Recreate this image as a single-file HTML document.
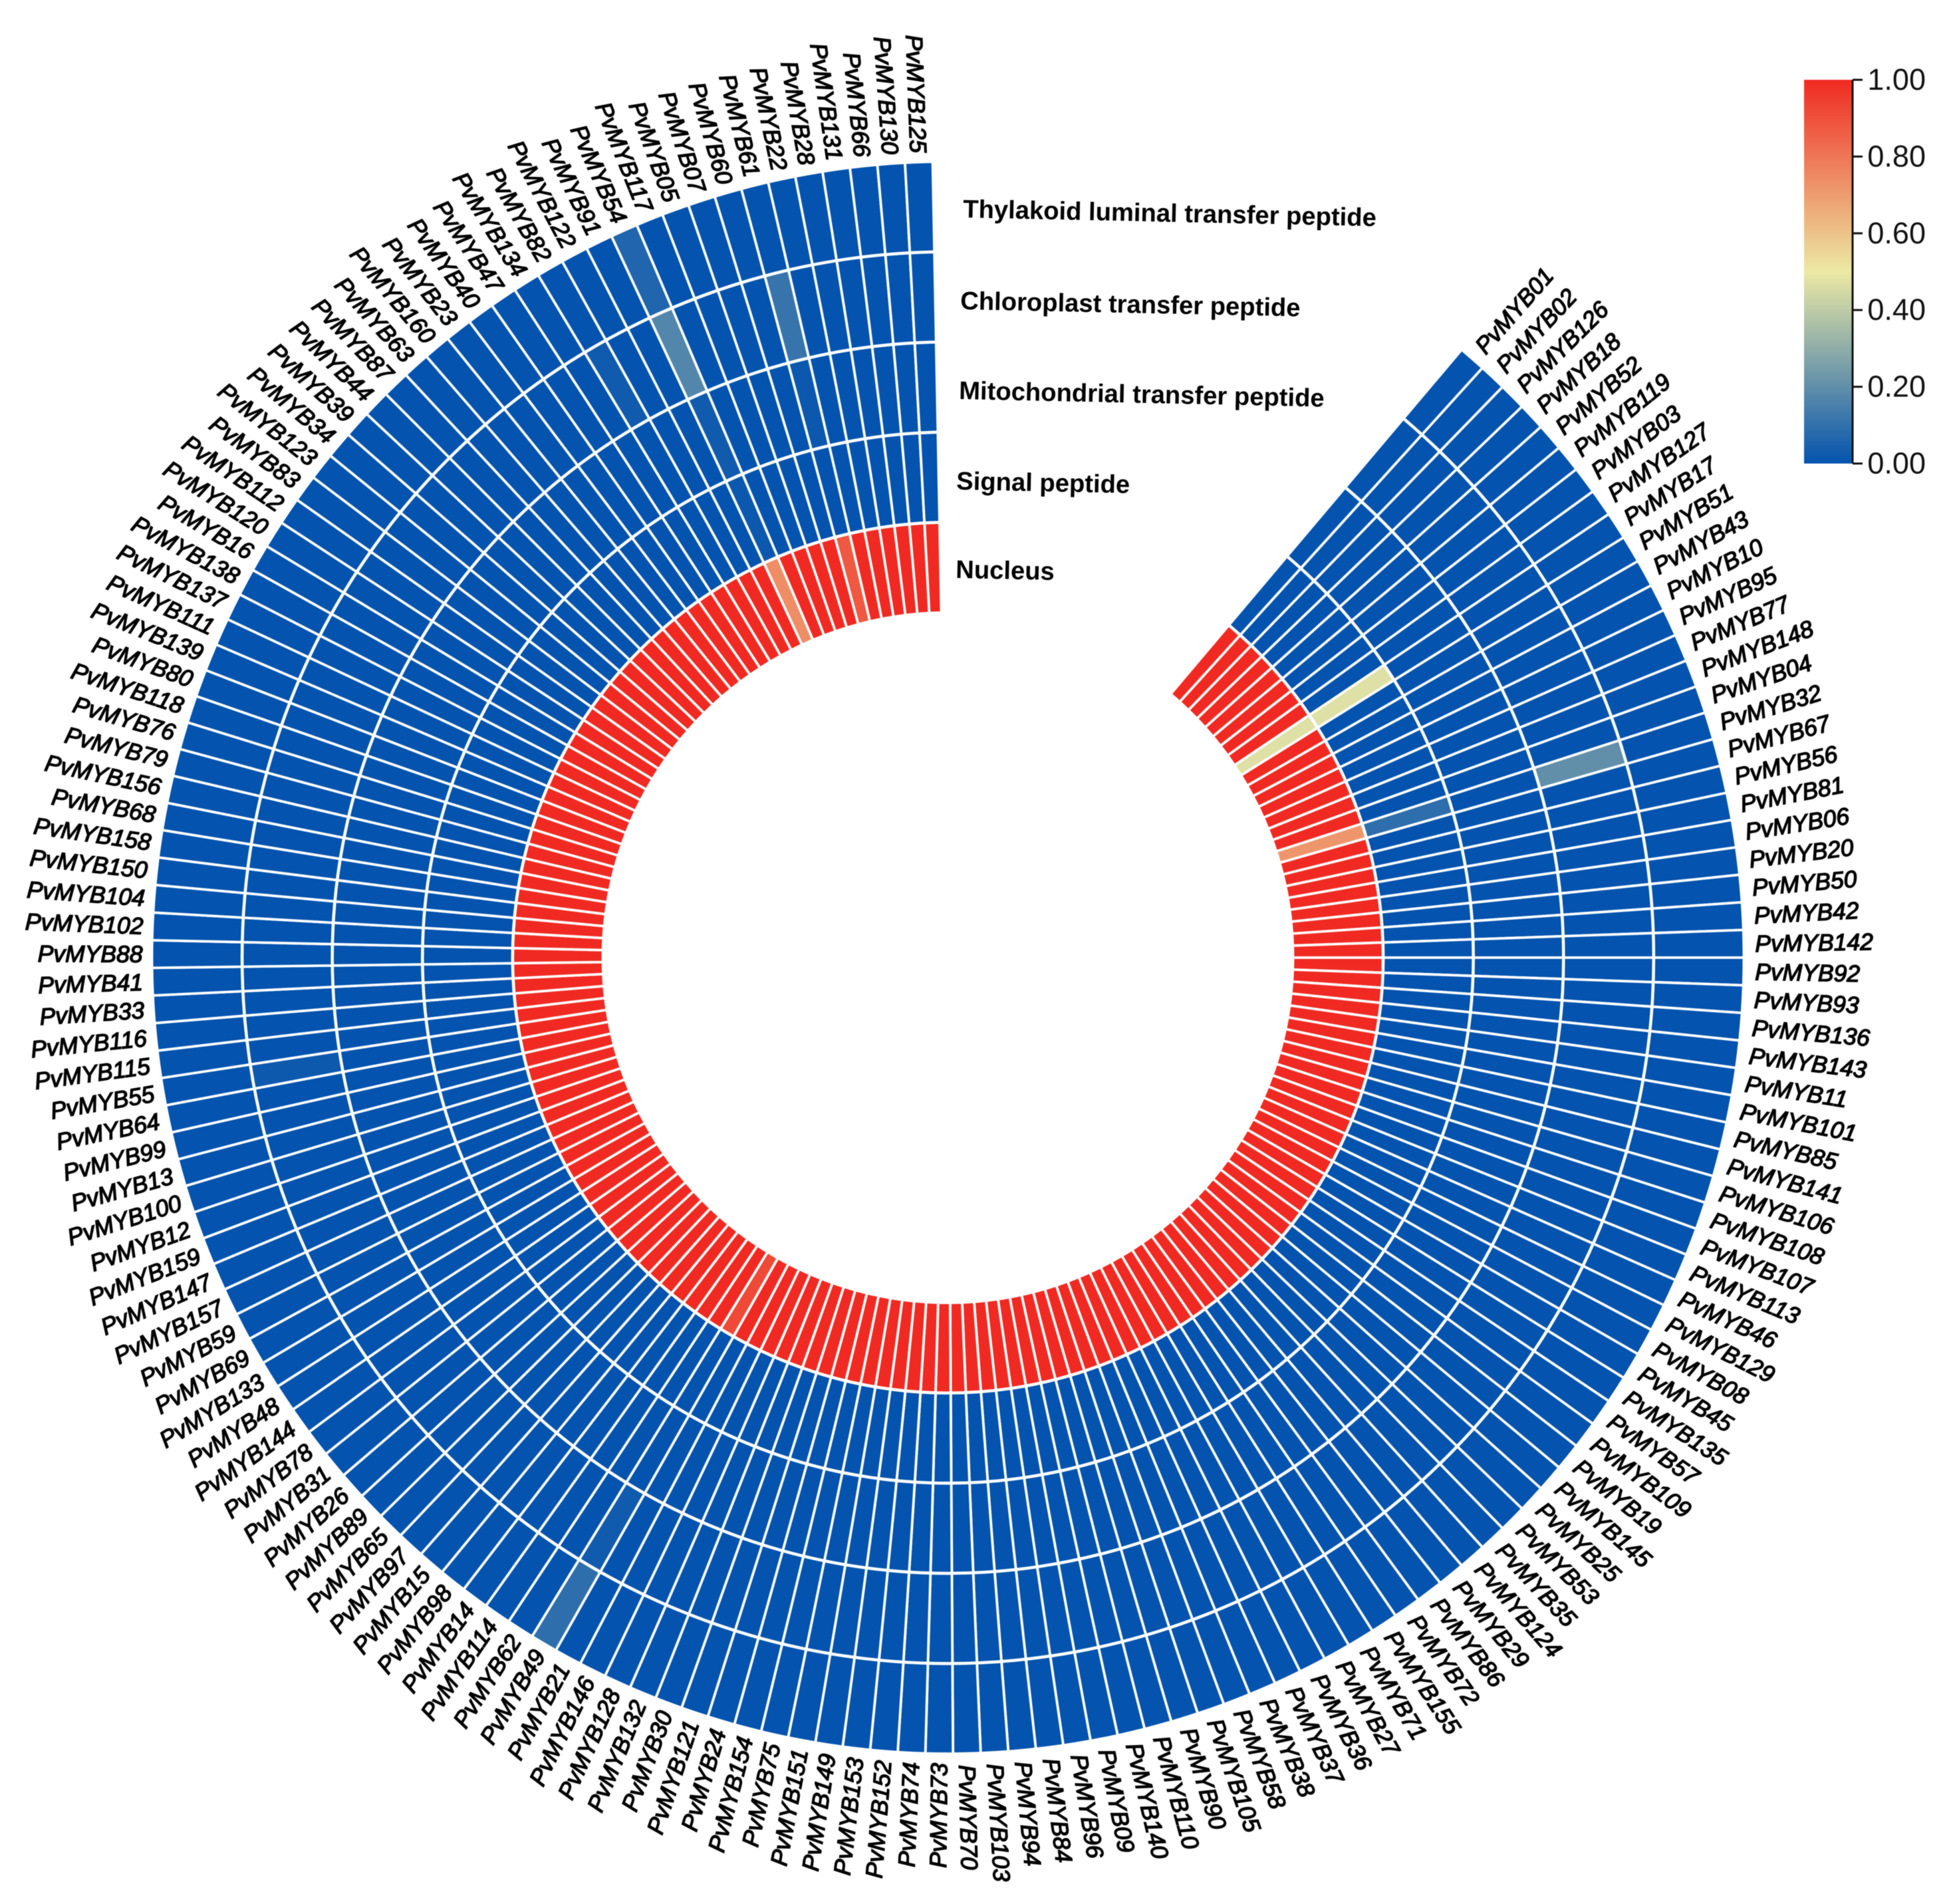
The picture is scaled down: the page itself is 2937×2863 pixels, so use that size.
<!DOCTYPE html>
<html lang="en">
<head>
<meta charset="utf-8">
<title>PvMYB subcellular localisation circular heatmap</title>
<style>
html,body{margin:0;padding:0;background:#fff;}
#chart{display:block;width:2937px;height:2863px;font-family:"Liberation Sans",Arial,sans-serif;filter:blur(0.6px);}
</style>
</head>
<body>
<svg id="chart" xmlns="http://www.w3.org/2000/svg" width="2937" height="2863" viewBox="0 0 2937 2863">
  <defs>
    <linearGradient id="legendGradient" x1="0" y1="1" x2="0" y2="0">
      <stop offset="0" stop-color="#0453ae"/>
      <stop offset="0.5" stop-color="#ece9a4"/>
      <stop offset="1" stop-color="#f02a22"/>
    </linearGradient>
  </defs>
  <g id="cells"></g>
  <g id="ringLines"></g>
  <g id="geneLabels"></g>
  <g id="ringLabels"></g>
  <g id="legend"></g>
</svg>
<script>
const genes = [
"01","02","126","18","52","119","03","127","17","51",
"43","10","95","77","148","04","32","67","56","81",
"06","20","50","42","142","92","93","136","143","11",
"101","85","141","106","108","107","113","46","129","08",
"45","135","57","109","19","145","25","53","35","124",
"29","86","72","155","71","27","36","37","38","58",
"105","90","110","140","09","96","84","94","103","70",
"73","74","152","153","149","151","75","154","24","121",
"30","132","128","146","21","49","62","114","14","98",
"15","97","65","89","26","31","78","144","48","133",
"69","59","157","147","159","12","100","13","99","64",
"55","115","116","33","41","88","102","104","150","158",
"68","156","79","76","118","80","139","111","137","138",
"16","120","112","83","123","34","39","44","87","63",
"160","23","40","47","134","82","122","91","54","117",
"05","07","60","61","22","28","131","66","130","125"
];
const ringNames = ["Nucleus","Signal peptide","Mitochondrial transfer peptide","Chloroplast transfer peptide","Thylakoid luminal transfer peptide"];
const nucleus = [
1,1,1,1,1,1,1,1,.47,1,
1,1,1,1,1,1,.72,1,1,1,
1,1,1,1,1,1,1,1,1,1,
1,1,1,1,1,1,1,1,1,1,
1,1,1,1,1,1,1,1,1,1,
1,1,1,1,1,1,1,1,1,1,
1,1,1,1,1,1,1,1,1,1,
1,1,1,1,1,1,1,1,1,1,
1,1,1,1,1,.92,1,1,1,1,
1,1,1,1,1,1,1,1,1,1,
1,1,1,1,1,1,1,1,1,1,
1,1,1,1,1,1,1,1,1,1,
1,1,1,1,1,1,1,1,1,1,
1,1,1,1,1,1,1,1,1,1,
1,1,1,1,1,1,1,1,.74,1,
1,1,1,.88,1,1,1,1,1,1
];
const signalPeptide = [
0,0,0,0,0,0,0,0,.47,0,
0,0,0,0,0,0,.09,0,0,0,
0,0,0,0,0,0,0,0,0,0,
0,0,0,0,0,0,0,0,0,0,
0,0,0,0,0,0,0,0,0,0,
0,0,0,0,0,0,0,0,0,0,
0,0,0,0,0,0,0,0,0,0,
0,0,0,0,0,0,0,0,0,0,
0,0,0,0,0,0,0,0,0,0,
0,0,0,0,0,0,0,0,0,0,
0,0,0,0,0,0,0,0,0,0,
0,0,0,0,0,0,0,0,0,0,
0,0,0,0,0,0,0,0,0,0,
0,0,0,0,0,0,0,0,0,0,
0,0,0,0,0,0,0,0,.015,0,
0,0,0,0,0,0,0,0,0,0
];
const mitochondrial = [
0,0,0,0,0,0,0,0,0,0,
0,0,0,0,0,0,0,0,0,0,
0,0,0,0,0,0,0,0,0,0,
0,0,0,0,0,0,0,0,0,0,
0,0,0,0,0,0,0,0,0,0,
0,0,0,0,0,0,0,0,0,0,
0,0,0,0,0,0,0,0,0,0,
0,0,0,0,0,0,0,0,0,0,
0,0,0,0,0,0,0,0,0,0,
0,0,0,0,0,0,0,0,0,0,
0,0,0,0,0,0,0,0,0,0,
0,0,0,0,0,0,0,0,0,0,
0,0,0,0,0,0,0,0,0,0,
0,0,0,0,0,0,0,0,0,0,
0,0,0,0,0,0,0,0,.025,0,
0,0,0,.015,0,0,0,0,0,0
];
const chloroplast = [
0,0,0,0,0,0,0,0,0,0,
0,0,0,0,0,0,.2,0,0,0,
0,0,0,0,0,0,0,0,0,0,
0,0,0,0,0,0,0,0,0,0,
0,0,0,0,0,0,0,0,0,0,
0,0,0,0,0,0,0,0,0,0,
0,0,0,0,0,0,0,0,0,0,
0,0,0,0,0,0,0,0,0,0,
0,0,0,0,0,.025,0,0,0,0,
0,0,0,0,0,0,0,0,0,0,
0,0,0,0,0,0,0,0,0,0,
.02,0,0,0,0,0,0,0,0,0,
0,0,0,0,0,0,0,0,0,0,
0,0,0,0,0,0,0,0,0,0,
0,0,0,0,0,.025,0,0,.17,0,
0,0,0,.11,0,0,0,0,0,0
];
const thylakoid = [
0,0,0,0,0,0,0,0,0,0,
0,0,0,0,0,0,0,0,0,0,
0,0,0,0,0,0,0,0,0,0,
0,0,0,0,0,0,0,0,0,0,
0,0,0,0,0,0,0,0,0,0,
0,0,0,0,0,0,0,0,0,0,
0,0,0,0,0,0,0,0,0,0,
0,0,0,0,0,0,0,0,0,0,
0,0,0,0,0,.09,0,0,0,0,
0,0,0,0,0,0,0,0,0,0,
0,0,0,0,0,0,0,0,0,0,
0,0,0,0,0,0,0,0,0,0,
0,0,0,0,0,0,0,0,0,0,
0,0,0,0,0,0,0,0,0,0,
0,0,0,0,0,0,0,0,.06,0,
0,0,0,0,0,0,0,0,0,0
];
const ringSeries = [nucleus, signalPeptide, mitochondrial, chloroplast, thylakoid];
const legendTicks = ["0.00","0.20","0.40","0.60","0.80","1.00"];

const NS = "http://www.w3.org/2000/svg";
const cx = 1425.5, cy = 1440;
const innerR = 519, ringW = 135.6;
const startDeg = 40.2, endDeg = 358.9;
const stepDeg = (endDeg - startDeg) / genes.length;

function angleOf(col){ return startDeg + col * stepDeg; }
function radiusOf(ring){ return innerR + ring * ringW; }
function polar(r, deg){
  const t = deg * Math.PI / 180;
  return [cx + r * Math.sin(t), cy - r * Math.cos(t)];
}
function mix(a, b, t){ return a.map((v, k) => Math.round(v + (b[k] - v) * t)); }
function colorOf(v){
  const low = [4, 83, 174], mid = [236, 233, 164], high = [240, 42, 34];
  const c = v <= 0.5 ? mix(low, mid, v / 0.5) : mix(mid, high, (v - 0.5) / 0.5);
  return "rgb(" + c.join(",") + ")";
}
function make(tag, attrs, parent){
  const el = document.createElementNS(NS, tag);
  for (const k in attrs) el.setAttribute(k, attrs[k]);
  parent.appendChild(el);
  return el;
}

const cellGroup = document.getElementById("cells");
ringSeries.forEach(function(series, ring){
  series.forEach(function(value, col){
    const r0 = radiusOf(ring), r1 = radiusOf(ring + 1);
    const a0 = angleOf(col), a1 = angleOf(col + 1);
    const p1 = polar(r0, a0), p2 = polar(r1, a0), p3 = polar(r1, a1), p4 = polar(r0, a1);
    const d = "M" + p1[0].toFixed(2) + " " + p1[1].toFixed(2) +
      "L" + p2[0].toFixed(2) + " " + p2[1].toFixed(2) +
      "A" + r1 + " " + r1 + " 0 0 1 " + p3[0].toFixed(2) + " " + p3[1].toFixed(2) +
      "L" + p4[0].toFixed(2) + " " + p4[1].toFixed(2) +
      "A" + r0 + " " + r0 + " 0 0 0 " + p1[0].toFixed(2) + " " + p1[1].toFixed(2) + "Z";
    const cell = make("path", {d: d, fill: colorOf(value), stroke: "#ffffff", "stroke-width": "3.8"}, cellGroup);
    
    
  });
});

const ringLineGroup = document.getElementById("ringLines");
[1, 2, 3, 4].forEach(function(ring){
  const r = radiusOf(ring);
  const p0 = polar(r, startDeg), p1 = polar(r, endDeg);
  const arc = make("path", {
    d: "M" + p0[0].toFixed(2) + " " + p0[1].toFixed(2) + "A" + r + " " + r + " 0 1 1 " + p1[0].toFixed(2) + " " + p1[1].toFixed(2),
    fill: "none", stroke: "#ffffff", "stroke-width": "4.6"
  }, ringLineGroup);
  
  
});

const labelGroup = document.getElementById("geneLabels");
const labelR = radiusOf(5) + 14;
genes.forEach(function(g, col){
  const a = angleOf(col + 0.5);
  const right = a < 180;
  const p = polar(right ? labelR + 3 : labelR, a);
  const rot = right ? a - 90 : a + 90;
  const t = make("text", {
    x: p[0].toFixed(2), y: p[1].toFixed(2), dy: "0.35em",
    "text-anchor": right ? "start" : "end",
    transform: "rotate(" + rot.toFixed(2) + " " + p[0].toFixed(2) + " " + p[1].toFixed(2) + ")",
    "font-size": "35.5", "font-style": "italic", "font-weight": "400",
    fill: "#000", stroke: "#000", "stroke-width": "1.4"
  }, labelGroup);
  t.textContent = "PvMYB" + g;
  
  
});

const ringLabelGroup = document.getElementById("ringLabels");
const ringLabelX = [1437, 1438, 1442, 1444, 1448];
const ringLabelY = [869, 736, 600, 465, 327];
ringNames.forEach(function(name, i){
  const t = make("text", {
    x: ringLabelX[i], y: ringLabelY[i],
    transform: "rotate(1.2 " + ringLabelX[i] + " " + ringLabelY[i] + ")",
    "font-size": "38.2", "font-weight": "700", fill: "#000"
  }, ringLabelGroup);
  t.textContent = name;
  
  
});

const legendGroup = document.getElementById("legend");
const barX = 2713, barW = 73, barTop = 120, barBottom = 697;
const bar = make("rect", {x: barX, y: barTop, width: barW, height: barBottom - barTop, fill: "url(#legendGradient)"}, legendGroup);


const axisLine = make("line", {x1: barX + barW, x2: barX + barW, y1: barTop, y2: barBottom, stroke: "#111", "stroke-width": "3"}, legendGroup);


legendTicks.forEach(function(label){
  const y = barBottom - parseFloat(label) * (barBottom - barTop);
  const tick = make("line", {x1: barX + barW, x2: barX + barW + 15, y1: y, y2: y, stroke: "#111", "stroke-width": "3"}, legendGroup);
  
  
  const t = make("text", {x: 2896, y: y + 15, "text-anchor": "end", "font-size": "45", fill: "#111"}, legendGroup);
  t.textContent = label;
  
  
});
</script>
</body>
</html>
